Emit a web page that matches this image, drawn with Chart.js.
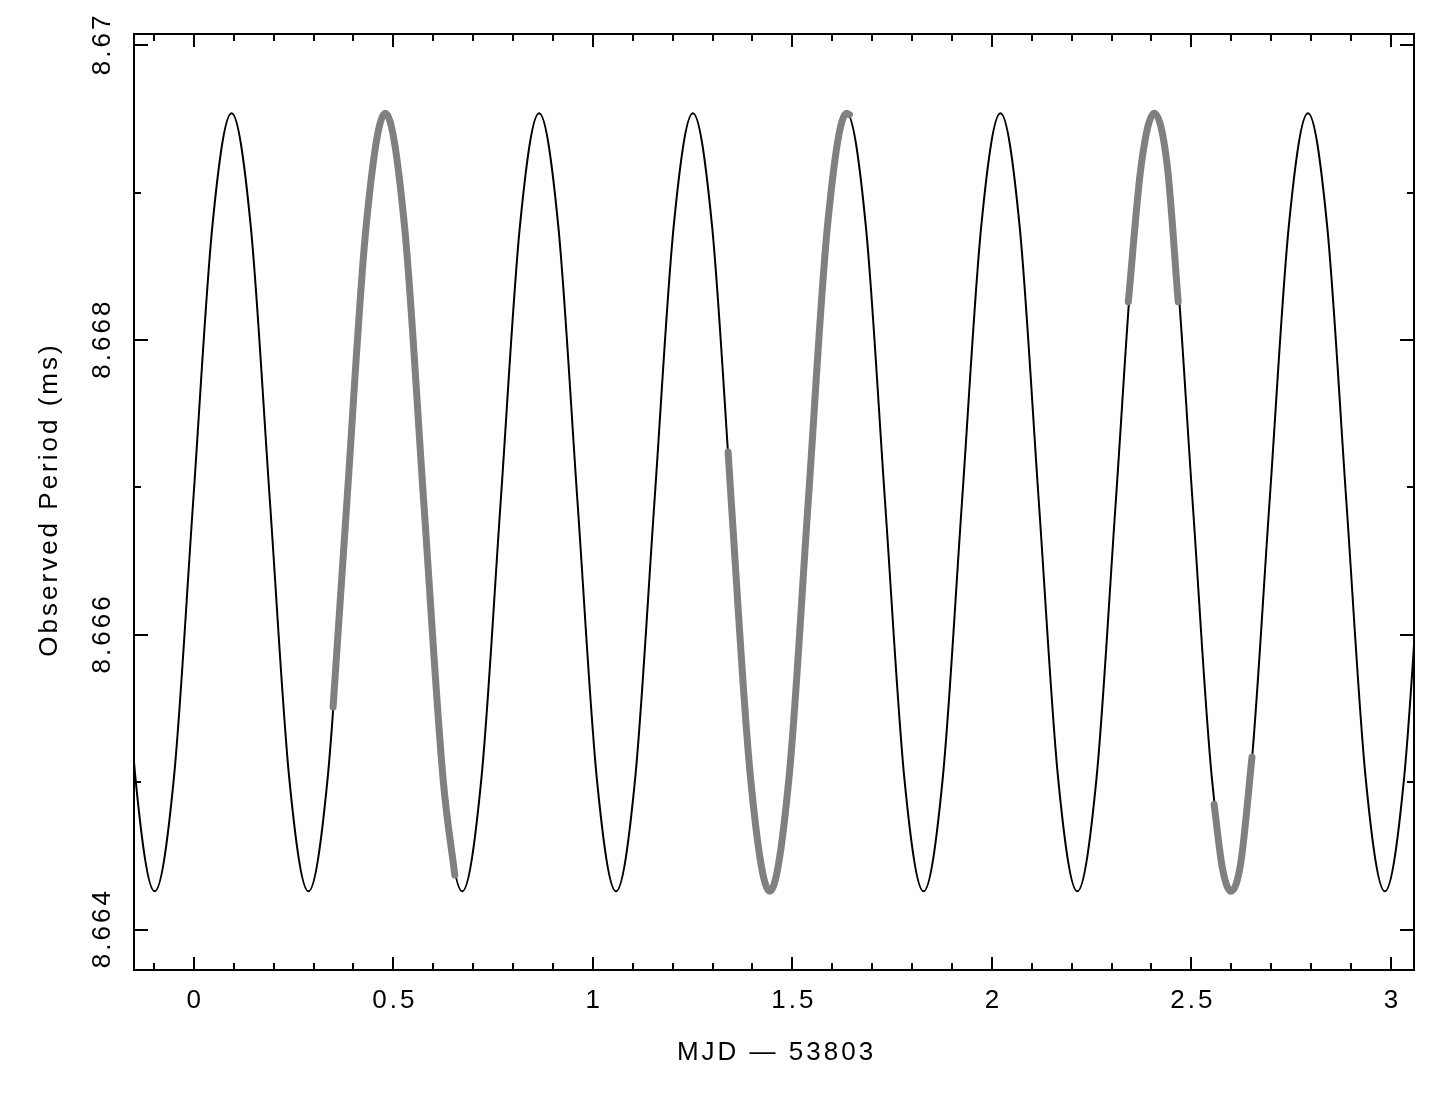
<!DOCTYPE html>
<html><head><meta charset="utf-8">
<script src="https://cdn.jsdelivr.net/npm/chart.js@4/dist/chart.umd.min.js"></script>
<style>html,body{margin:0;padding:0;background:#fff;}</style>
</head><body>
<canvas id="c" width="1450" height="1100"></canvas>
<script>
// Model curve (thin black): MJD-53803 and observed period (ms)
const modelX = [-0.1945,-0.1464,-0.0982,-0.0500,-0.0018,0.0463,
  0.0945,0.1427,0.1908,0.2390,0.2872,0.3354,0.3835,0.4317,
  0.4799,0.5281,0.5762,0.6244,0.6726,0.7208,0.7689,0.8171,
  0.8653,0.9135,0.9616,1.0098,1.0580,1.1062,1.1543,1.2025,
  1.2507,1.2989,1.3470,1.3952,1.4434,1.4916,1.5397,1.5879,
  1.6361,1.6843,1.7324,1.7806,1.8288,1.8770,1.9251,1.9733,
  2.0215,2.0697,2.1178,2.1660,2.2142,2.2624,2.3105,2.3587,
  2.4069,2.4551,2.5032,2.5514,2.5996,2.6478,2.6959,2.7441,
  2.7923,2.8405,2.8886,2.9368,2.9850,3.0332,3.0813,3.1295];
const modelY = [8.66690,8.66503,8.66426,8.66503,8.66690,8.66877,
  8.66954,8.66877,8.66690,8.66503,8.66426,8.66503,8.66690,8.66877,
  8.66954,8.66877,8.66690,8.66503,8.66426,8.66503,8.66690,8.66877,
  8.66954,8.66877,8.66690,8.66503,8.66426,8.66503,8.66690,8.66877,
  8.66954,8.66877,8.66690,8.66503,8.66426,8.66503,8.66690,8.66877,
  8.66954,8.66877,8.66690,8.66503,8.66426,8.66503,8.66690,8.66877,
  8.66954,8.66877,8.66690,8.66503,8.66426,8.66503,8.66690,8.66877,
  8.66954,8.66877,8.66690,8.66503,8.66426,8.66503,8.66690,8.66877,
  8.66954,8.66877,8.66690,8.66503,8.66426,8.66503,8.66690,8.66877];

// Measured segments (thick grey)
const segAX = [0.349,0.3835,0.4317,0.4799,0.5281,0.5762,0.6244,0.654];
const segAY = [8.66551,8.66690,8.66877,8.66954,8.66877,8.66690,8.66503,8.66437];
const segBX = [1.339,1.3470,1.3952,1.4434,1.4916,1.5397,1.5879,1.6361,1.643];
const segBY = [8.66724,8.66690,8.66503,8.66426,8.66503,8.66690,8.66877,8.66954,8.66953];
const segCX = [2.342,2.3745,2.4069,2.4393,2.467];
const segCY = [8.66826,8.66919,8.66954,8.66919,8.66826];
const segDX = [2.557,2.5783,2.5996,2.6237,2.652];
const segDY = [8.66485,8.66441,8.66426,8.66445,8.66517];

// Axes
const xMajor = [0,0.5,1,1.5,2,2.5,3];
const xLabels = ["0","0.5","1","1.5","2","2.5","3"];
const xMinor = [-0.1,0.1,0.2,0.3,0.4,0.6,0.7,0.8,0.9,1.1,1.2,1.3,1.4,1.6,1.7,1.8,1.9,2.1,2.2,2.3,2.4,2.6,2.7,2.8,2.9];
const yMajor = [8.664,8.666,8.668,8.670];
const yLabels = ["8.664","8.666","8.668","8.67"];
const yMinor = [8.665,8.667,8.669];
const xTitle = "MJD \u2014 53803";
const yTitle = "Observed Period (ms)";

const pts = (xs, ys) => xs.map((x, i) => ({x: x, y: ys[i]}));
const grey = 'rgb(128,128,128)';
const greyStyle = {borderColor: grey, borderWidth: 7, pointRadius: 0, borderCapStyle: 'round', borderJoinStyle: 'round', cubicInterpolationMode: 'monotone', tension: 0.4, fill: false, clip: 0, order: 0};

const LS = 3;
const frame = {
  id: 'frame',
  afterDraw(chart) {
    const ctx = chart.ctx, a = chart.chartArea, xs = chart.scales.x, ys = chart.scales.y;
    ctx.save();
    ctx.strokeStyle = '#000';
    ctx.lineWidth = 2;
    ctx.strokeRect(a.left, a.top, a.right - a.left, a.bottom - a.top);
    ctx.beginPath();
    const xt = (v, len) => { const p = Math.round(xs.getPixelForValue(v)); ctx.moveTo(p, a.bottom); ctx.lineTo(p, a.bottom - len); ctx.moveTo(p, a.top); ctx.lineTo(p, a.top + len); };
    const yt = (v, len) => { const p = Math.round(ys.getPixelForValue(v)); ctx.moveTo(a.left, p); ctx.lineTo(a.left + len, p); ctx.moveTo(a.right, p); ctx.lineTo(a.right - len, p); };
    xMajor.forEach(v => xt(v, 13));
    xMinor.forEach(v => xt(v, 7));
    yMajor.forEach(v => yt(v, 14));
    yMinor.forEach(v => yt(v, 7));
    ctx.stroke();

    ctx.fillStyle = '#000';
    ctx.font = '26px "Liberation Sans", Arial, sans-serif';
    try { ctx.letterSpacing = LS + 'px'; } catch (e) {}
    ctx.textAlign = 'center';
    ctx.textBaseline = 'middle';
    xMajor.forEach((v, i) => ctx.fillText(xLabels[i], xs.getPixelForValue(v) + LS / 2, 1001));
    yMajor.forEach((v, i) => {
      ctx.save();
      ctx.translate(103, ys.getPixelForValue(v));
      ctx.rotate(-Math.PI / 2);
      ctx.fillText(yLabels[i], LS / 2, 0);
      ctx.restore();
    });
    ctx.fillText(xTitle, 775 + LS / 2, 1053);
    ctx.save();
    ctx.translate(50, 501);
    ctx.rotate(-Math.PI / 2);
    ctx.fillText(yTitle, LS / 2, 0);
    ctx.restore();
    ctx.restore();
  }
};

new Chart(document.getElementById('c'), {
  type: 'line',
  data: {
    datasets: [
      Object.assign({label: 'data A', data: pts(segAX, segAY)}, greyStyle),
      Object.assign({label: 'data B', data: pts(segBX, segBY)}, greyStyle),
      Object.assign({label: 'data C', data: pts(segCX, segCY)}, greyStyle),
      Object.assign({label: 'data D', data: pts(segDX, segDY)}, greyStyle),
      {label: 'model', data: pts(modelX, modelY), borderColor: '#000', borderWidth: 2, pointRadius: 0,
       cubicInterpolationMode: 'monotone', tension: 0.4, fill: false, clip: 0, order: 1}
    ]
  },
  options: {
    responsive: false,
    animation: false,
    devicePixelRatio: 1,
    layout: {padding: {left: 134, top: 34, right: 36, bottom: 130}},
    plugins: {legend: {display: false}, tooltip: {enabled: false}},
    scales: {
      x: {type: 'linear', min: -0.15, max: 3.058, display: false},
      y: {type: 'linear', min: 8.663726, max: 8.670077, display: false}
    }
  },
  plugins: [frame]
});
</script>
</body></html>
